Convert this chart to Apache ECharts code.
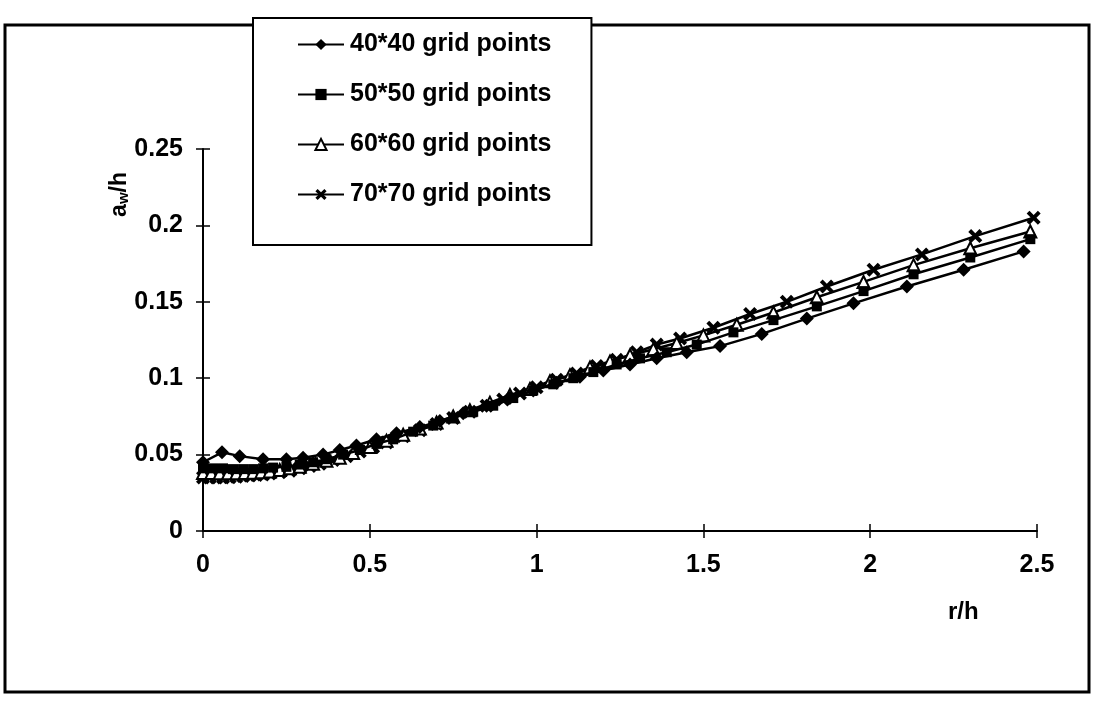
<!DOCTYPE html>
<html>
<head>
<meta charset="utf-8">
<title>a_w/h vs r/h</title>
<script src="https://cdn.jsdelivr.net/npm/echarts@6/dist/echarts.min.js"></script>
<style>
  html, body { margin: 0; padding: 0; background: #fff; }
  #chart { width: 1093px; height: 702px; }
</style>
</head>
<body>
<div id="chart"></div>
<script>
// r/h positions and a_w/h values, one pair of arrays per grid
const seriesNames = ['40*40 grid points', '50*50 grid points', '60*60 grid points', '70*70 grid points'];

const r40 = [0, 0.057, 0.11, 0.18, 0.25, 0.30, 0.36, 0.41, 0.46, 0.52, 0.58, 0.65, 0.71, 0.78, 0.85,
             0.92, 0.99, 1.06, 1.13, 1.20, 1.28, 1.36, 1.45, 1.55, 1.675, 1.81, 1.95, 2.11, 2.28, 2.46];
const a40 = [0.045, 0.0515, 0.049, 0.047, 0.047, 0.048, 0.050, 0.053, 0.056, 0.060, 0.064, 0.068, 0.072, 0.077, 0.082,
             0.087, 0.092, 0.097, 0.101, 0.105, 0.109, 0.113, 0.117, 0.121, 0.129, 0.139, 0.149, 0.160, 0.171, 0.183];

const r50 = [0, 0.03, 0.06, 0.09, 0.12, 0.15, 0.18, 0.21, 0.25, 0.29, 0.33, 0.37, 0.42, 0.47, 0.52, 0.57, 0.63,
             0.69, 0.75, 0.81, 0.87, 0.93, 0.99, 1.05, 1.11, 1.17, 1.24, 1.31, 1.39, 1.48, 1.59, 1.71, 1.84,
             1.98, 2.13, 2.30, 2.48];
const a50 = [0.041, 0.041, 0.041, 0.0405, 0.0405, 0.0405, 0.041, 0.0415, 0.042, 0.0435, 0.045, 0.047, 0.050, 0.053,
             0.057, 0.060, 0.065, 0.069, 0.074, 0.078, 0.082, 0.087, 0.092, 0.096, 0.100, 0.104, 0.109, 0.113,
             0.117, 0.122, 0.130, 0.138, 0.147, 0.157, 0.168, 0.179, 0.191];

const r60 = [0, 0.025, 0.05, 0.075, 0.10, 0.125, 0.15, 0.175, 0.20, 0.23, 0.26, 0.29, 0.33, 0.37, 0.41, 0.45,
             0.50, 0.55, 0.60, 0.65, 0.70, 0.75, 0.80, 0.86, 0.92, 0.98, 1.04, 1.10, 1.16, 1.22, 1.28, 1.35,
             1.42, 1.50, 1.60, 1.71, 1.84, 1.98, 2.13, 2.30, 2.48];
const a60 = [0.038, 0.038, 0.0378, 0.0378, 0.0378, 0.038, 0.0382, 0.0385, 0.039, 0.040, 0.041, 0.042, 0.044,
             0.046, 0.048, 0.051, 0.055, 0.059, 0.063, 0.067, 0.071, 0.075, 0.079, 0.084, 0.089, 0.093, 0.098,
             0.102, 0.107, 0.111, 0.115, 0.119, 0.123, 0.128, 0.135, 0.143, 0.153, 0.163, 0.174, 0.185, 0.196];

const r70 = [0, 0.02, 0.04, 0.06, 0.08, 0.10, 0.12, 0.14, 0.16, 0.18, 0.20, 0.23, 0.26, 0.29, 0.32, 0.35, 0.39,
             0.43, 0.47, 0.51, 0.55, 0.60, 0.65, 0.70, 0.75, 0.80, 0.85, 0.90, 0.95, 1.00, 1.06, 1.12, 1.18,
             1.24, 1.30, 1.36, 1.43, 1.53, 1.64, 1.75, 1.87, 2.01, 2.155, 2.315, 2.49];
const a70 = [0.035, 0.035, 0.035, 0.035, 0.0352, 0.0355, 0.036, 0.0363, 0.0367, 0.037, 0.0377, 0.0385, 0.0395,
             0.041, 0.0425, 0.044, 0.0465, 0.049, 0.052, 0.055, 0.058, 0.062, 0.066, 0.070, 0.074, 0.078, 0.082,
             0.086, 0.090, 0.094, 0.099, 0.103, 0.108, 0.112, 0.117, 0.122, 0.126, 0.133, 0.142, 0.150, 0.160,
             0.171, 0.181, 0.193, 0.205];

const xTicks = [0, 0.5, 1, 1.5, 2, 2.5];
const yTicks = [0, 0.05, 0.1, 0.15, 0.2, 0.25];

function pairs(xs, ys) {
    return xs.map((x, i) => [x, ys[i]]);
}

const crossMark = 'path://M0,2 L2,0 L5,3 L8,0 L10,2 L7,5 L10,8 L8,10 L5,7 L2,10 L0,8 L3,5 Z';
const FONT = '"Liberation Sans", Arial, sans-serif';

const chart = echarts.init(document.getElementById('chart'));

const labelStyle = {
    color: '#000',
    fontFamily: FONT,
    fontWeight: 'bold',
    fontSize: 25
};

function fmt(v) {
    return String(parseFloat(v.toFixed(2)));
}

const baseSeries = {
    type: 'line',
    color: '#000',
    lineStyle: {color: '#000', width: 2.5},
    itemStyle: {color: '#000'},
    showSymbol: true,
    animation: false
};

const option = {
    backgroundColor: '#fff',
    animation: false,
    grid: {left: 203, right: 56, top: 149, bottom: 171},
    legend: {
        orient: 'vertical',
        left: 253,
        top: 18,
        data: seriesNames,
        itemWidth: 46,
        itemHeight: 14,
        itemGap: 25,
        padding: [14, 40, 38, 44],
        borderColor: '#000',
        borderWidth: 2,
        backgroundColor: '#fff',
        textStyle: {color: '#000', fontFamily: FONT, fontWeight: 'bold', fontSize: 25, padding: [0, 0, 0, 1]}
    },
    xAxis: [{
        type: 'value',
        min: 0, max: 2.5, interval: 0.5,
        axisLine: {show: true, onZero: false, lineStyle: {color: '#000', width: 2}},
        axisTick: {show: true, inside: false, length: 7, lineStyle: {color: '#000', width: 1.5}},
        axisLabel: Object.assign({margin: 22, formatter: fmt}, labelStyle),
        splitLine: {show: false}
    }, {
        type: 'value',
        position: 'bottom',
        min: 0, max: 2.5, interval: 0.5,
        axisLine: {show: false},
        axisTick: {show: true, inside: true, length: 7, lineStyle: {color: '#000', width: 1.5}},
        axisLabel: {show: false},
        splitLine: {show: false}
    }],
    yAxis: [{
        type: 'value',
        min: 0, max: 0.25, interval: 0.05,
        axisLine: {show: true, onZero: false, lineStyle: {color: '#000', width: 2}},
        axisTick: {show: true, inside: false, length: 7, lineStyle: {color: '#000', width: 1.5}},
        axisLabel: Object.assign({margin: 20, formatter: fmt}, labelStyle),
        splitLine: {show: false}
    }, {
        type: 'value',
        position: 'left',
        min: 0, max: 0.25, interval: 0.05,
        axisLine: {show: false},
        axisTick: {show: true, inside: true, length: 7, lineStyle: {color: '#000', width: 1.5}},
        axisLabel: {show: false},
        splitLine: {show: false}
    }],
    graphic: [
        {
            type: 'rect',
            shape: {x: 5, y: 25, width: 1084, height: 667},
            style: {fill: 'none', stroke: '#000', lineWidth: 3},
            z: -1,
            silent: true
        },
        {
            type: 'text',
            left: 108,
            top: 172,
            rotation: Math.PI / 2,
            style: {
                text: '{n|a}{s|w}{n|/h}',
                rich: {
                    n: {fontFamily: FONT, fontWeight: 'bold', fontSize: 23, fill: '#000'},
                    s: {fontFamily: FONT, fontWeight: 'bold', fontSize: 15, fill: '#000', verticalAlign: 'bottom', padding: [8, 0, 0, 0]}
                }
            }
        },
        {
            type: 'text',
            left: 948,
            top: 600,
            style: {text: 'r/h', fontFamily: FONT, fontWeight: 'bold', fontSize: 24, fill: '#000'}
        }
    ],
    series: [
        Object.assign({}, baseSeries, {
            name: seriesNames[0],
            data: pairs(r40, a40),
            symbol: 'diamond',
            symbolSize: 14,
            z: 5
        }),
        Object.assign({}, baseSeries, {
            name: seriesNames[1],
            data: pairs(r50, a50),
            symbol: 'rect',
            symbolSize: 10,
            z: 4
        }),
        Object.assign({}, baseSeries, {
            name: seriesNames[2],
            data: pairs(r60, a60),
            symbol: 'triangle',
            symbolSize: 12,
            itemStyle: {color: '#fff', borderColor: '#000', borderWidth: 2},
            z: 3
        }),
        Object.assign({}, baseSeries, {
            name: seriesNames[3],
            data: pairs(r70, a70),
            symbol: crossMark,
            symbolSize: 14,
            z: 2
        })
    ]
};

chart.setOption(option);
</script>
</body>
</html>
